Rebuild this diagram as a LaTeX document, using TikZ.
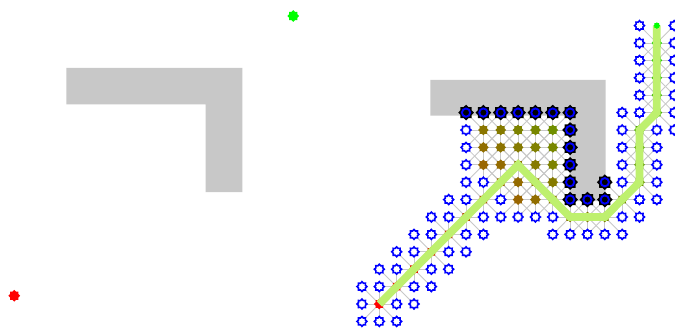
\documentclass[tikz,border=0pt]{standalone}
\usetikzlibrary{shapes.geometric}
\definecolor{obst}{RGB}{200,200,200}
\definecolor{pathc}{RGB}{190,240,110}
\definecolor{edgec}{RGB}{200,200,200}
\definecolor{openc}{RGB}{0,0,255}
\tikzset{
  edge/.style={draw=edgec, line width=0.65pt},
  openmark/.style={star, star points=8, star point ratio=1.35, inner sep=0pt,
    minimum size=7.4pt, draw=openc, fill=white, line width=1.2pt},
  closedmark/.style={star, star points=8, star point ratio=1.3, inner sep=0pt,
    minimum size=8pt},
  darkmark/.style={star, star points=8, star point ratio=1.3, inner sep=0pt,
    minimum size=11.8pt, fill=black,
    path picture={\draw[openc, line width=1.4pt] (path picture bounding box.center) circle (3.1pt);}},
  bigmark/.style={star, star points=8, star point ratio=1.3, inner sep=0pt,
    minimum size=8.8pt},
  pathline/.style={draw=pathc, line width=5.8pt},
}
\def\closedlist{0/0,1/1,2/2,3/3,4/4,5/5,6/6,7/7,8/8,9/7,10/6,11/5,12/5,13/5,14/6,15/7,15/8,15/9,15/10,16/11,16/12,16/13,16/14,16/15,6/8,7/8,9/8,10/8,6/9,7/9,8/9,9/9,10/9,6/10,7/10,8/10,9/10,10/10,8/7,10/7,8/6,9/6}
\def\darklist{5/11,6/11,7/11,8/11,9/11,10/11,11/11,11/10,11/9,11/8,11/7,11/6,12/6,13/6,13/7}
\def\openlist{-1/-1,0/-1,1/-1,-1/0,1/0,2/0,-1/1,0/1,2/1,3/1,0/2,1/2,3/2,4/2,1/3,2/3,4/3,5/3,2/4,3/4,5/4,6/4,10/4,11/4,12/4,13/4,14/4,3/5,4/5,6/5,7/5,8/5,9/5,10/5,14/5,15/5,4/6,5/6,7/6,15/6,16/6,5/7,6/7,14/7,16/7,5/8,14/8,16/8,5/9,14/9,16/9,5/10,14/10,16/10,17/10,14/11,15/11,17/11,15/12,17/12,15/13,17/13,15/14,17/14,15/15,17/15,15/16,17/16}
\begin{document}
\begin{tikzpicture}[x=0.75pt, y=-0.75pt]
\fill[white] (0,0) rectangle (675,328);
\useasboundingbox (0,0) rectangle (675,328);
% left panel
\fill[obst] (66.3,68) -- (242.3,68) -- (242.3,192) -- (205.7,192) -- (205.7,104.3) -- (66.3,104.3) -- cycle;
\node[bigmark, fill=red] (startL) at (14.3,295.7) {};
\node[bigmark, fill=green] (goalL) at (293.3,16) {};
% right panel
\fill[obst] (430.3,80) -- (605.7,80) -- (605.7,201) -- (569.5,201) -- (569.5,115.7) -- (430.3,115.7) -- cycle;
\begin{scope}[shift={(379.3,304)}, x={(13.01pt,0pt)}, y={(0pt,13.05pt)}]
  \foreach \i in {-1,...,17}{\foreach \j in {-1,...,16}{\coordinate (g\i_\j) at (\i,\j);}}
  % search-tree edges
  \foreach \a/\b in \closedlist {
    \foreach \dx in {-1,0,1}{\foreach \dy in {-1,0,1}{
      \pgfmathtruncatemacro\na{\a+\dx}\pgfmathtruncatemacro\nb{\b+\dy}
      \draw[edge] (g\a_\b) -- (g\na_\nb);
    }}
  }
  % open nodes
  \foreach \a/\b in \openlist {\node[openmark] (o\a_\b) at (g\a_\b) {};}
  % collision nodes
  \foreach \a/\b in \darklist {\node[darkmark] (d\a_\b) at (g\a_\b) {};}
  % closed nodes
  \foreach \a/\b in \closedlist {
    \pgfmathsetmacro\gg{min(\a,\b)*1.41421+abs(\a-\b)}
    \pgfmathsetmacro\hh{sqrt((16-\a)^2+(16-\b)^2)}
    \pgfmathtruncatemacro\tt{90*\gg/(\gg+\hh)}
    \node[closedmark, fill=green!\tt!red] (c\a_\b) at (g\a_\b) {};
  }
  % path
  \draw[pathline] (g0_0) -- (g8_8) -- (g11_5) -- (g13_5) -- (g15_7) -- (g15_10) -- (g16_11) -- (g16_16);
  \node[closedmark, minimum size=5pt, fill=green] (goalR) at (g16_16) {};
\end{scope}
\end{tikzpicture}
\end{document}
